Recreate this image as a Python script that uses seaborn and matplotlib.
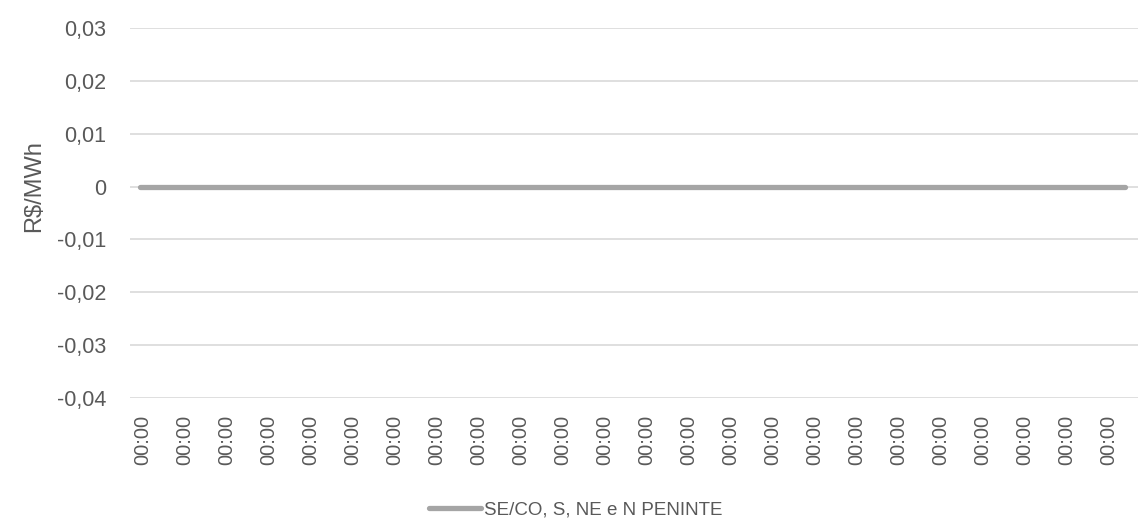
import matplotlib
matplotlib.use("Agg")
import matplotlib.pyplot as plt
import matplotlib.ticker as mticker
import seaborn as sns
import pandas as pd
import numpy as np

# Data
hour_labels = ["00:00", "00:00", "00:00", "00:00", "00:00", "00:00",
               "00:00", "00:00", "00:00", "00:00", "00:00", "00:00",
               "00:00", "00:00", "00:00", "00:00", "00:00", "00:00",
               "00:00", "00:00", "00:00", "00:00", "00:00", "00:00"]
series_name = "SE/CO, S, NE e N PENINTE"
series_values = [0, 0, 0, 0, 0, 0, 0, 0, 0, 0, 0, 0,
                 0, 0, 0, 0, 0, 0, 0, 0, 0, 0, 0, 0]
y_ticks = [-0.04, -0.03, -0.02, -0.01, 0, 0.01, 0.02, 0.03]

sns.set_theme(style="white")
plt.rcParams['font.family'] = ['Liberation Sans', 'DejaVu Sans']

df = pd.DataFrame({"idx": np.arange(len(series_values)),
                   "valor": series_values,
                   "serie": series_name})

fig = plt.figure(figsize=(11.4, 5.28), dpi=100)
ax = fig.add_axes([0.114, 0.246, 0.884, 0.701])

text_color = "#595959"

sns.lineplot(data=df, x="idx", y="valor", hue="serie", palette=["#a5a5a5"],
             linewidth=3.8, ax=ax, legend=False, solid_capstyle="round", zorder=3)

ax.set_ylim(-0.04, 0.03)
ax.set_yticks(y_ticks)
ax.yaxis.set_major_formatter(mticker.FuncFormatter(
    lambda v, p: "0" if abs(v) < 1e-12 else f"{v:.2f}".replace(".", ",")))
ax.set_xlim(-0.245, len(series_values) - 1 + 0.29)
ax.set_xticks(df["idx"] * 0.981 + 0.05)
ax.set_xticklabels(hour_labels, rotation=90)

ax.grid(axis="y", color="#d9d9d9", linewidth=1.2)
ax.grid(axis="x", visible=False)
for s in ax.spines.values():
    s.set_visible(False)

ax.tick_params(axis="y", length=0, pad=17, labelsize=15.5, labelcolor=text_color)
ax.tick_params(axis="x", length=0, pad=12, labelsize=14.5, labelcolor=text_color)

ax.set_xlabel("")
ax.set_ylabel("R$/MWh", fontsize=17, color=text_color)
ax.yaxis.set_label_coords(-0.084, 0.573)

handle = plt.Line2D([0], [0], color="#a5a5a5", linewidth=3.8, solid_capstyle="round")
fig.legend([handle], [series_name], loc="center", bbox_to_anchor=(0.505, 0.034),
           frameon=False, fontsize=13.5, labelcolor=text_color,
           handlelength=2.8, handletextpad=0.15)

fig.savefig("out.png", dpi=100)
